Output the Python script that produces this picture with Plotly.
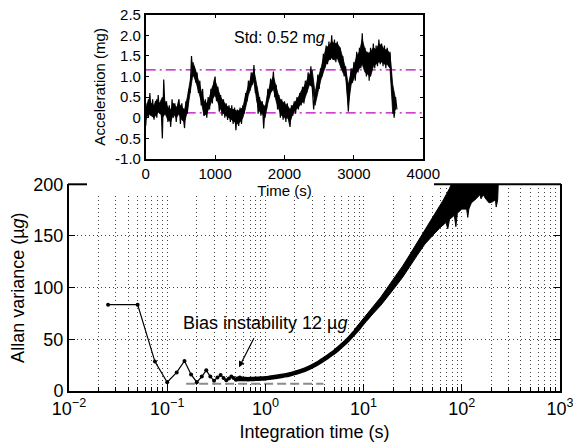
import plotly.graph_objects as go

# ---------------- data ----------------
# Inset: acceleration time series (20 s steps)
inset_t = list(range(0, 3640, 20))
inset_acc = [
    -0.2, 0.35, 0.0, 0.6, 0.05, 0.45, -0.05, 0.4, 0.0, 0.55,
    0.1, 0.35, -0.5, 0.93, 0.1, 0.4, -0.1, 0.3, -0.22, 0.45,
    0.0, 0.35, -0.1, 0.3, 0.45, -0.15, 0.35, -0.05, -0.25, 0.4,
    0.1, 0.7, 0.6, 1.5, 1.0, 1.25, 0.85, 1.1, 0.6, 0.9,
    0.3, 0.7, 0.05, 0.45, 0.0, 0.5, 0.2, 0.7, 0.35, 0.85,
    1.0, 0.4, 0.75, 0.15, 0.55, 0.05, 0.45, 0.0, 0.35, -0.05,
    0.3, -0.1, 0.3, -0.15, 0.25, -0.3, 0.2, -0.2, 0.25, -0.15,
    0.3, 0.1, 0.6, 0.4, 0.9, 0.65, 1.1, 0.8, 1.28, 0.6,
    0.75, 0.1, 0.5, 0.05, 0.4, -0.26, 0.3, 0.2, 0.7, 0.5,
    0.95, 0.7, 1.12, 0.5, 0.8, 0.2, 0.55, 0.0, 0.45, -0.05,
    0.4, -0.1, 0.35, -0.05, -0.22, 0.3, 0.05, 0.4, 0.1, 0.5,
    0.2, 0.6, 0.3, 0.75, 0.35, 0.9, 0.6, 1.1, 0.8, 1.25,
    0.7, 0.2, 0.6, 0.5, 1.05, 0.7, 1.2, 1.0, 1.55, 1.2,
    1.75, 1.3, 1.85, 1.4, 2.0, 1.4, 1.9, 1.35, 1.85, 1.4,
    1.7, 1.2, 1.5, 1.0, 1.25, 0.5, 0.15, 0.8, 1.2, 0.85,
    1.35, 0.9, 1.6, 1.1, 1.7, 1.2, 2.05, 1.3, 1.7, 1.0,
    1.6, 0.9, 1.7, 1.2, 1.8, 1.2, 1.75, 1.25, 1.9, 1.3,
    1.8, 1.25, 1.75, 1.2, 1.7, 1.25, 1.6, 0.9, 0.4, 0.0,
    0.5, 0.2,
]
# Inset: solid core of the noisy trace (40 s steps)
env_t = list(range(0, 3640, 40))
env_hi = [0.2, 0.45, 0.35, 0.3, 0.45, 0.35, 0.5, 0.4, 0.25, 0.2,
          0.35, 0.25, 0.35, 0.25, 0.2, 0.5, 0.9, 1.35, 1.15, 0.9,
          0.7, 0.4, 0.35, 0.5, 0.75, 0.9, 0.7, 0.5, 0.4, 0.3,
          0.25, 0.2, 0.2, 0.15, 0.2, 0.25, 0.55, 0.8, 1.0, 1.15,
          0.75, 0.45, 0.35, 0.25, 0.6, 0.85, 1.0, 0.75, 0.5, 0.4,
          0.35, 0.3, 0.2, 0.3, 0.4, 0.5, 0.65, 0.75, 0.9, 1.05,
          1.15, 0.6, 0.95, 1.15, 1.45, 1.7, 1.75, 1.85, 1.8, 1.8,
          1.7, 1.45, 1.2, 0.8, 1.1, 1.25, 1.5, 1.6, 1.9, 1.65,
          1.55, 1.6, 1.7, 1.65, 1.8, 1.75, 1.65, 1.65, 1.55, 0.8,
          0.45]
env_lo = [-0.05, 0.1, 0.05, 0.0, 0.1, 0.15, 0.0, 0.1, -0.05, -0.1,
          0.1, 0.0, 0.1, -0.05, -0.1, 0.15, 0.65, 1.05, 0.9, 0.65,
          0.4, 0.05, 0.1, 0.25, 0.45, 0.55, 0.4, 0.2, 0.1, 0.05,
          0.0, -0.05, -0.1, -0.15, -0.1, 0.0, 0.25, 0.55, 0.75, 0.9,
          0.4, 0.15, 0.1, 0.0, 0.35, 0.6, 0.7, 0.4, 0.2, 0.05,
          0.0, 0.0, -0.1, 0.1, 0.2, 0.25, 0.35, 0.4, 0.6, 0.8,
          0.75, 0.3, 0.6, 0.9, 1.1, 1.3, 1.4, 1.45, 1.4, 1.45,
          1.3, 1.1, 1.0, 0.3, 0.8, 0.95, 1.1, 1.2, 1.3, 1.1,
          1.05, 1.0, 1.25, 1.3, 1.35, 1.35, 1.3, 1.3, 1.2, 0.1,
          0.2]
std_band = [0.12, 1.16]          # mean -/+ std (mg)
inset_xrange = [0, 4000]

# Main: Allan variance, discrete early points
tau_early = [0.025, 0.05, 0.075, 0.1, 0.125, 0.15, 0.175, 0.2, 0.225, 0.25,
             0.275, 0.3, 0.325, 0.35, 0.375, 0.4, 0.425, 0.45, 0.475, 0.5,
             0.525, 0.55, 0.575, 0.6]
av_early = [83.5, 83.5, 28.5, 8.5, 18, 29, 16, 8.5, 14, 20,
            14, 10, 13, 15.5, 12.5, 10.5, 12, 14, 12.5, 11,
            12, 13, 12, 11.3]

# Main: dense part (centre of the thick curve)
tau_dense = [0.5, 0.6, 0.7, 0.8, 0.9, 1.0, 1.1, 1.2, 1.35, 1.5, 1.75, 2.0,
             2.5, 3.0, 3.5, 4.0, 4.5, 5.0, 6.0, 7.0, 8.0, 9.0, 10.0, 11.0, 12.0]
av_dense = [11.5, 11.5, 11.5, 11.8, 12.0, 12.3, 12.8, 13.3, 14.0, 14.8, 16.0, 17.5,
            20.5, 24.0, 27.5, 31.0, 34.5, 37.5, 44.0, 50.0, 56.0, 61.5, 67.0, 71.5, 76.0]

# Main: noisy band at long integration times (upper and lower edges)
band_up_x = [8, 10, 12, 15, 20, 25, 30, 37, 45, 55, 65, 75, 80, 240]
band_up_y = [59, 70, 79, 91, 108, 121, 133, 147, 160, 173, 185, 196, 202, 210]
band_lo_x = [240, 236, 232, 228, 224, 220, 205, 190, 175, 165, 160, 157, 153, 140,
             125, 118, 115, 112, 100, 90, 87, 84, 75, 72, 69, 60, 50, 42, 35,
             30, 25, 20, 15, 12, 10, 8]
band_lo_y = [210, 205, 185, 178, 178, 185, 183, 182, 186, 190, 188, 186, 190, 186,
             182, 176, 168, 176, 176, 172, 159, 170, 166, 157, 163, 158, 150, 142, 131,
             121, 110, 98, 83, 73, 65, 54]

bias_x = [0.156, 3.9]
bias_y = [7, 7]

main_xticks = [0.01, 0.1, 1, 10, 100, 1000]
main_xlabels = ["10<sup>\u22122</sup>", "10<sup>\u22121</sup>", "10<sup>0</sup>",
                "10<sup>1</sup>", "10<sup>2</sup>", "10<sup>3</sup>"]
main_minor = [m * d for d in [0.01, 0.1, 1, 10, 100] for m in range(2, 10)]
main_yticks = [0, 50, 100, 150, 200]

inset_yticks = [-1.0, -0.5, 0, 0.5, 1.0, 1.5, 2.0, 2.5]
inset_ylabels = ["-1.0", "-0.5", "0", "0.5", "1.0", "1.5", "2.0", "2.5"]
inset_xticks = [0, 1000, 2000, 3000, 4000]

# ---------------- figure ----------------
W, H = 573, 445
FONT = "Liberation Sans, Arial, sans-serif"
MAGENTA = "#C000C0"
GRID = "#444444"

fig = go.Figure()

# main traces
fig.add_trace(go.Scatter(x=band_up_x + band_lo_x, y=band_up_y + band_lo_y,
                         mode="lines", fill="toself", fillcolor="black",
                         line=dict(color="black", width=1),
                         xaxis="x", yaxis="y", showlegend=False))
fig.add_trace(go.Scatter(x=tau_dense, y=av_dense, mode="lines",
                         line=dict(color="black", width=4.5, shape="spline"),
                         xaxis="x", yaxis="y", showlegend=False))
fig.add_trace(go.Scatter(x=tau_early, y=av_early, mode="lines+markers",
                         line=dict(color="black", width=1.2),
                         marker=dict(color="black", size=4),
                         xaxis="x", yaxis="y", showlegend=False))
fig.add_trace(go.Scatter(x=bias_x, y=bias_y, mode="lines",
                         line=dict(color="#8c8c8c", width=2, dash="9px,4px"),
                         xaxis="x", yaxis="y", showlegend=False))

# blank panel (white background hides main grid behind the inset)
fig.add_trace(go.Scatter(x=[], y=[], xaxis="x2", yaxis="y2", showlegend=False))

# inset traces
for lvl in std_band:
    fig.add_trace(go.Scatter(x=inset_xrange, y=[lvl, lvl], mode="lines",
                             line=dict(color=MAGENTA, width=1.3, dash="10px,4px,2px,4px"),
                             xaxis="x3", yaxis="y3", showlegend=False))
fig.add_trace(go.Scatter(x=env_t + env_t[::-1], y=env_hi + env_lo[::-1],
                         mode="lines", fill="toself", fillcolor="black",
                         line=dict(color="black", width=0.8),
                         xaxis="x3", yaxis="y3", showlegend=False))
fig.add_trace(go.Scatter(x=inset_t, y=inset_acc, mode="lines",
                         line=dict(color="black", width=1.2),
                         xaxis="x3", yaxis="y3", showlegend=False))

main_xd = [69 / W, 560 / W]
main_yd = [(H - 391) / H, (H - 184.3) / H]
ins_xd = [145.7 / W, 423.3 / W]
ins_yd = [(H - 159) / H, (H - 14.7) / H]
blank_xd = [87 / W, 434 / W]
blank_yd = [(H - 196) / H, (H - 180) / H]

fig.update_layout(
    template="none",
    width=W, height=H,
    margin=dict(l=0, r=0, t=0, b=0),
    paper_bgcolor="white", plot_bgcolor="white",
    font=dict(family=FONT, size=18, color="black"),
    xaxis=dict(domain=main_xd, type="log", range=[-2, 3.0001], automargin=False,
               tickmode="array", tickvals=main_xticks, ticktext=main_xlabels,
               ticklabeloverflow="allow",
               ticks="inside", ticklen=7, tickwidth=1.2, tickcolor="black",
               showline=True, linewidth=2, linecolor="black", mirror=False,
               showgrid=True, gridcolor=GRID, gridwidth=1, griddash="1px,3px",
               zeroline=False,
               minor=dict(tickmode="array", tickvals=main_minor, ticks="inside",
                          ticklen=4, tickcolor="black", showgrid=True,
                          gridcolor=GRID, gridwidth=1, griddash="1px,3px"),
               title=dict(text="Integration time (s)", standoff=8,
                          font=dict(size=18)),
               tickfont=dict(size=18), anchor="y"),
    yaxis=dict(domain=main_yd, range=[0, 200], automargin=False,
               tickmode="array", tickvals=main_yticks,
               ticklabeloverflow="allow",
               ticks="inside", ticklen=6, tickwidth=1.2, tickcolor="black",
               showline=True, linewidth=2, linecolor="black", mirror="ticks",
               showgrid=True, gridcolor=GRID, gridwidth=1, griddash="1px,3px",
               zeroline=False,
               title=dict(text="Allan variance (\u00b5<i>g</i>)", standoff=4,
                          font=dict(size=18)),
               tickfont=dict(size=18), anchor="x"),
    xaxis2=dict(domain=blank_xd, range=[0, 1], visible=False, anchor="y2",
                showgrid=False, zeroline=False, automargin=False),
    yaxis2=dict(domain=blank_yd, range=[0, 1], visible=False, anchor="x2",
                showgrid=False, zeroline=False, automargin=False),
    xaxis3=dict(domain=ins_xd, range=inset_xrange, automargin=False,
                tickmode="array", tickvals=inset_xticks,
                ticklabeloverflow="allow",
                ticks="inside", ticklen=4, tickcolor="black",
                showline=True, linewidth=1.5, linecolor="black", mirror="ticks",
                showgrid=False, zeroline=False,
                title=dict(text="Time (s)", standoff=2, font=dict(size=15)),
                tickfont=dict(size=15), anchor="y3"),
    yaxis3=dict(domain=ins_yd, range=[-1, 2.5], automargin=False,
                tickmode="array", tickvals=inset_yticks, ticktext=inset_ylabels,
                ticklabeloverflow="allow",
                ticks="inside", ticklen=4, tickcolor="black",
                showline=True, linewidth=1.5, linecolor="black", mirror="ticks",
                showgrid=False, zeroline=False,
                title=dict(text="Acceleration (mg)", standoff=6, font=dict(size=15)),
                tickfont=dict(size=15), anchor="x3"),
    shapes=[
        # top border of main axes, visible outside the inset
        dict(type="line", xref="paper", yref="paper",
             x0=68 / W, x1=87 / W, y0=(H - 184.3) / H, y1=(H - 184.3) / H,
             line=dict(color="black", width=2)),
        dict(type="line", xref="paper", yref="paper",
             x0=434 / W, x1=561 / W, y0=(H - 184.3) / H, y1=(H - 184.3) / H,
             line=dict(color="black", width=2)),
    ],
    annotations=[
        dict(text="Bias instability 12 \u00b5<i>g</i>", xref="paper", yref="paper",
             x=264.5 / W, y=(H - 323) / H, xanchor="center", yanchor="middle",
             showarrow=False, font=dict(size=18)),
        dict(text="", xref="x", yref="y", x=-0.269, y=22.9,
             ax=15.7, ay=-30.6, showarrow=True, arrowhead=2, arrowsize=1,
             arrowwidth=1.2, arrowcolor="black"),
        dict(text="Std: 0.52 m<i>g</i>", xref="paper", yref="paper",
             x=279 / W, y=(H - 37) / H, xanchor="center", yanchor="middle",
             showarrow=False, font=dict(size=16)),
    ],
)

fig.write_html("out.html")
